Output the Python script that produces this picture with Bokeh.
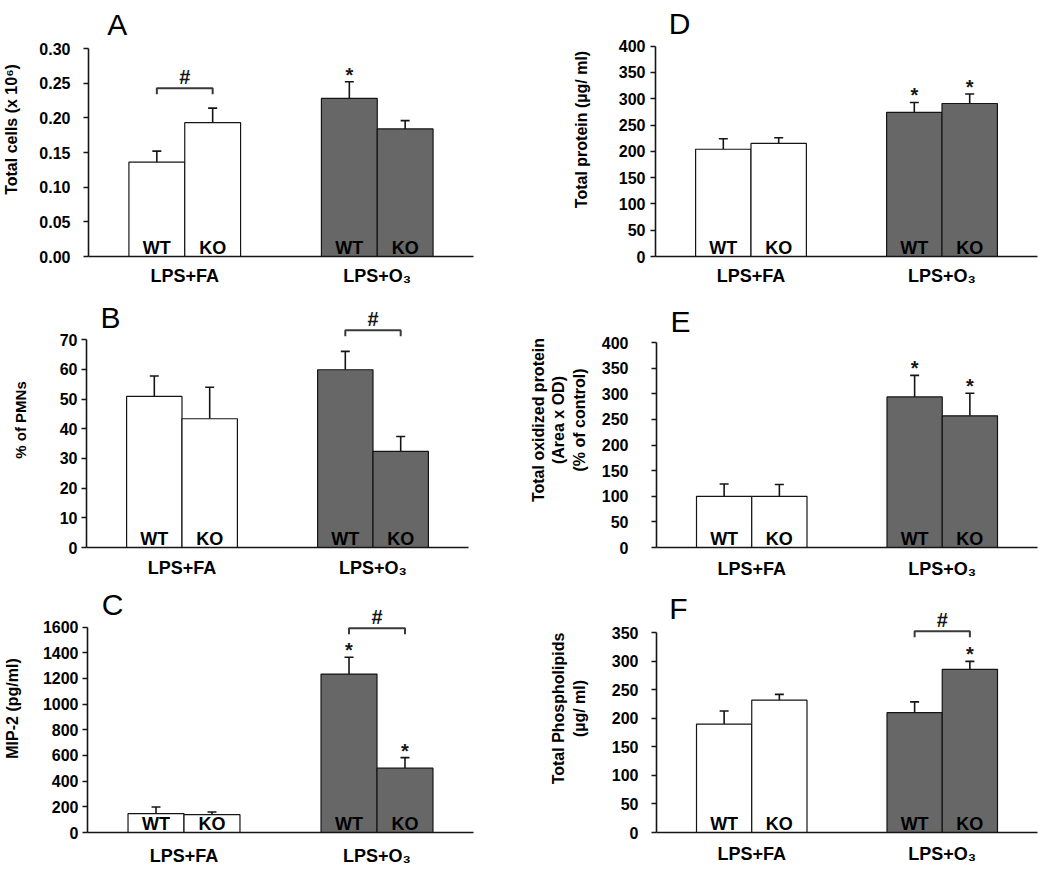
from bokeh.plotting import figure
from bokeh.layouts import column, row
from bokeh.models import (FixedTicker, PrintfTickFormatter, Whisker, TeeHead,
                          ColumnDataSource, Range1d, Label)
from bokeh.embed import file_html
from bokeh.resources import INLINE
from bokeh.core.properties import value

# ---------------- data ----------------
categories = ["LPS+FA", "LPS+O\u2083"]
genotypes = ["WT", "KO"]
# order of every series: FA-WT, FA-KO, O3-WT, O3-KO
cells_mean = [0.136, 0.193, 0.228, 0.184]
cells_sem = [0.016, 0.021, 0.024, 0.012]
pmn_mean = [50.9, 43.4, 59.9, 32.4]
pmn_sem = [6.9, 10.6, 6.2, 5.0]
mip2_mean = [147, 139, 1234, 501]
mip2_sem = [52, 21, 131, 82]
protein_mean = [204, 215, 274, 291]
protein_sem = [20, 11, 19, 18]
oxprot_mean = [100, 100, 294, 257]
oxprot_sem = [24, 23, 42, 44]
phospho_mean = [190, 232, 210, 286]
phospho_sem = [23, 10, 19, 14]

# significance: * vs LPS+FA, # WT vs KO (index of the group)
cells_star = [False, False, True, False]
pmn_star = [False, False, False, False]
mip2_star = [False, False, True, True]
protein_star = [False, False, True, True]
oxprot_star = [False, False, True, True]
phospho_star = [False, False, False, True]
cells_hash = 0
pmn_hash = 1
mip2_hash = 1
protein_hash = None
oxprot_hash = None
phospho_hash = 1

# ---------------- style / layout ----------------
FONT = "Liberation Sans"
INK = "#151515"
BAR_FILL = {"LPS+FA": "#ffffff", "LPS+O\u2083": "#676767"}
HALF = 0.145

COLS = [(0, 520), (520, 530)]
ROWS = [(0, 290), (290, 292), (582, 290)]


def make_panel(letter, mean, sem, stars, hash_group, ylabel, ymax, ystep, fmt,
               geom, col, rw, tick_standoff, label_standoff, label_size,
               letter_pos, bracket_gap, x_standoff):
    left, right, y0, ytop = geom
    colx, colw = COLS[col]
    rowy, rowh = ROWS[rw]
    bl = round(left - colx)
    br = round(colx + colw - right)
    bt = 2
    bb = round(rowy + rowh - y0)
    y0a = rowy + rowh - bb
    ft = rowy + bt
    scale = (y0a - ytop) / ymax
    yend = (y0a - ft) / scale

    p = figure(width=colw, height=rowh, x_range=Range1d(-0.5, 1.5),
               y_range=Range1d(0, yend), min_border_left=bl,
               min_border_right=br, min_border_top=bt, min_border_bottom=bb,
               toolbar_location=None, output_backend="svg",
               outline_line_color=None)
    p.xgrid.visible = False
    p.ygrid.visible = False

    xs, fills, labels = [], [], []
    for gi, cat in enumerate(categories):
        for gen in genotypes:
            xs.append(gi + (-HALF if gen == "WT" else HALF))
            fills.append(BAR_FILL[cat])
            labels.append(gen)
    upper = [m + s for m, s in zip(mean, sem)]
    src = ColumnDataSource(dict(x=xs, top=mean, upper=upper, fill=fills,
                                label=labels))

    p.vbar(x="x", top="top", bottom=0, width=2 * HALF, fill_color="fill",
           line_color=INK, line_width=1.2, source=src)
    p.add_layout(Whisker(source=src, base="x", upper="upper", lower="top",
                         line_color=INK, line_width=1.6,
                         upper_head=TeeHead(size=9, line_color=INK,
                                            line_width=1.6),
                         lower_head=None))
    p.text(x="x", y=9.0 / scale, text="label", source=src,
           text_font=value(FONT), text_font_style="bold",
           text_font_size="18px", text_align="center",
           text_baseline="middle", text_color="#000000")

    sx = [x for x, s in zip(xs, stars) if s]
    sy = [u + 7.0 / scale for u, s in zip(upper, stars) if s]
    if sx:
        p.text(x=sx, y=sy, text=["*"] * len(sx), text_font=value(FONT),
               text_font_style="bold", text_font_size="20px",
               text_align="center", text_baseline="middle",
               text_color=INK)

    if hash_group is not None:
        i0, i1 = 2 * hash_group, 2 * hash_group + 1
        x0, x1 = xs[i0], xs[i1]
        yb = max(upper[i0], upper[i1]) + bracket_gap / scale
        tk = 6 / scale
        p.line(x=[x0, x0, x1, x1], y=[yb - tk, yb, yb, yb - tk],
               line_color="#3a3a3a", line_width=2)
        p.text(x=[(x0 + x1) / 2], y=[yb + 11.5 / scale], text=["#"],
               text_font=value(FONT), text_font_style="bold",
               text_font_size="20px", text_align="center",
               text_baseline="middle", text_color=INK)

    lx, lcy = letter_pos
    p.add_layout(Label(x=(lx - left) / (right - left) * 2 - 0.5,
                       y=(y0a - lcy) / scale, text=letter,
                       text_font=FONT, text_font_size="30px",
                       text_align="center", text_baseline="middle",
                       text_color="#000000"))

    # x axis
    xa = p.xaxis[0]
    xa.ticker = FixedTicker(ticks=[0, 1])
    xa.major_label_overrides = {0: categories[0], 1: categories[1]}
    xa.major_tick_line_color = None
    xa.major_tick_out = 0
    xa.major_tick_in = 0
    xa.minor_tick_line_color = None
    xa.minor_tick_out = 0
    xa.major_label_standoff = x_standoff
    xa.major_label_text_font = FONT
    xa.major_label_text_font_style = "bold"
    xa.major_label_text_font_size = "18px"
    xa.major_label_text_color = "#000000"
    xa.axis_line_width = 1.6
    xa.axis_line_color = INK

    # y axis
    ya = p.yaxis[0]
    n = int(round(ymax / ystep))
    ya.ticker = FixedTicker(ticks=[i * ystep for i in range(n + 1)])
    ya.formatter = PrintfTickFormatter(format=fmt)
    ya.bounds = (0, ymax)
    ya.major_tick_out = 5
    ya.major_tick_in = 0
    ya.minor_tick_line_color = None
    ya.minor_tick_out = 0
    ya.major_tick_line_color = INK
    ya.major_tick_line_width = 1.4
    ya.axis_line_width = 1.6
    ya.axis_line_color = INK
    ya.major_label_standoff = tick_standoff
    ya.major_label_text_font = FONT
    ya.major_label_text_font_style = "bold"
    ya.major_label_text_font_size = "16px"
    ya.major_label_text_color = "#000000"
    ya.axis_label = ylabel
    ya.axis_label_standoff = label_standoff
    ya.axis_label_text_font = FONT
    ya.axis_label_text_font_style = "bold"
    ya.axis_label_text_font_size = label_size
    ya.axis_label_text_color = "#000000"
    return p


pA = make_panel("A", cells_mean, cells_sem, cells_star, cells_hash,
                "Total cells (x 10\u2076)", 0.30, 0.05, "%.2f",
                (86, 473, 256, 48), 0, 0, 13, 16, "16px", (115, 24), 20, 9)
pB = make_panel("B", pmn_mean, pmn_sem, pmn_star, pmn_hash,
                "% of PMNs", 70, 10, "%d",
                (86, 468, 547, 339.3), 0, 1, 4, 28, "15px", (110, 316.5), 21,
                10)
pC = make_panel("C", mip2_mean, mip2_sem, mip2_star, mip2_hash,
                "MIP-2 (pg/ml)", 1600, 200, "%d",
                (87, 473, 833.3, 626.7), 0, 2, 4, 19, "16px", (112, 604), 29,
                13)
pD = make_panel("D", protein_mean, protein_sem, protein_star, protein_hash,
                "Total protein (\u00b5g/ ml)", 400, 50, "%d",
                (655, 1037, 255.7, 45.7), 1, 0, 5, 26, "16px", (679, 23), 20,
                9)
pE = make_panel("E", oxprot_mean, oxprot_sem, oxprot_star, oxprot_hash,
                "Total oxidized protein\n(Area x OD)\n(% of control)", 400, 50,
                "%d", (656, 1037, 547.7, 342.3), 1, 1, 23, 11, "16px",
                (680, 321), 20, 11)
pF = make_panel("F", phospho_mean, phospho_sem, phospho_star, phospho_hash,
                "Total Phospholipids\n(\u00b5g/ ml)", 350, 50, "%d",
                (656, 1037, 831.7, 632.3), 1, 2, 13, 21, "16px", (678, 608),
                30, 11)

layout = column(row(pA, pD), row(pB, pE), row(pC, pF))
open("out.html", "w").write(file_html(layout, INLINE, title="BAL endpoints"))
